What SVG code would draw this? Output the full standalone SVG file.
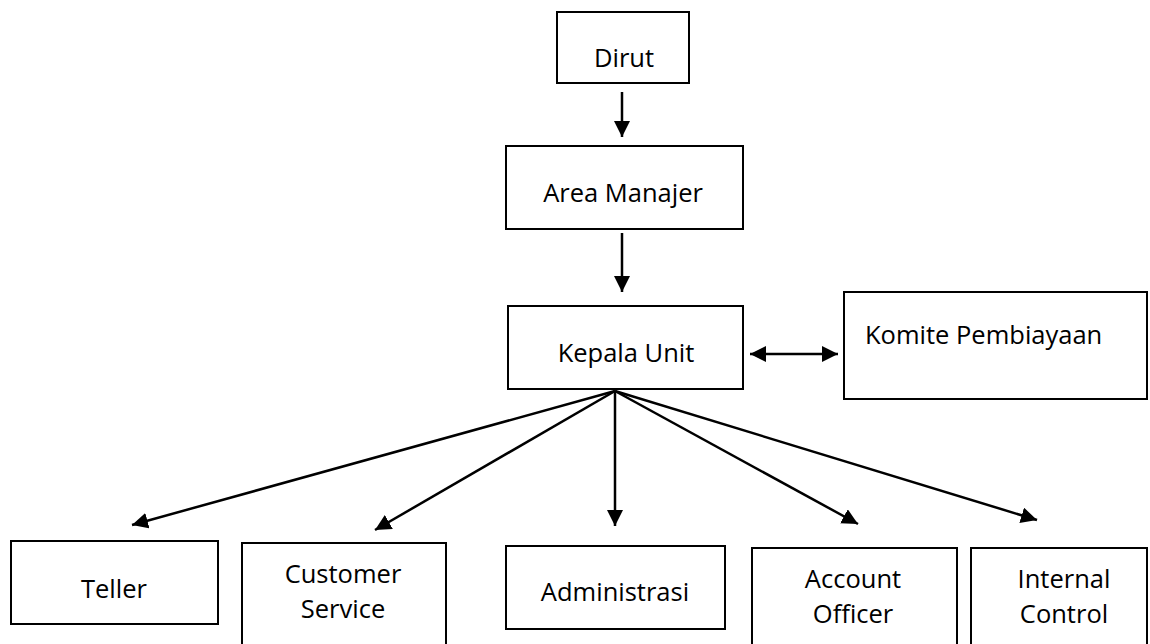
<svg xmlns="http://www.w3.org/2000/svg" width="1150" height="644" viewBox="0 0 1150 644">
<style>
.box{fill:#fff;stroke:#000;stroke-width:2}
.t{font-family:"Open Sans","Noto Sans",sans-serif;font-size:25.5px;fill:#000;text-anchor:middle}
.tl{font-family:"Open Sans","Noto Sans",sans-serif;font-size:25.5px;fill:#000}
.c{stroke:#000;stroke-width:2.5;fill:none}
</style>
<defs>
<marker id="ah" markerUnits="userSpaceOnUse" markerWidth="18" markerHeight="18" viewBox="0 0 18 18" refX="16" refY="8" orient="auto-start-reverse">
<path d="M0,0 L16,8 L0,16 z" fill="#000"/>
</marker>
</defs>
<rect width="1150" height="644" fill="#fff"/>
<g id="dirut"><rect class="box" x="557" y="12" width="132" height="71"/><text class="t" x="624" y="67">Dirut</text></g>
<g id="area-manajer"><rect class="box" x="506" y="146" width="237" height="83"/><text class="t" x="623" y="202">Area Manajer</text></g>
<g id="kepala-unit"><rect class="box" x="508" y="306" width="235" height="83"/><text class="t" x="626" y="362">Kepala Unit</text></g>
<g id="komite"><rect class="box" x="844" y="292" width="303" height="107"/><text class="tl" x="865" y="344">Komite Pembiayaan</text></g>
<g id="teller"><rect class="box" x="11" y="541" width="207" height="83"/><text class="t" x="114" y="598">Teller</text></g>
<g id="customer-service"><rect class="box" x="242" y="543" width="204" height="110"/><text class="t" x="343" y="583">Customer</text><text class="t" x="343" y="618">Service</text></g>
<g id="administrasi"><rect class="box" x="506" y="546" width="219" height="83"/><text class="t" x="615" y="601">Administrasi</text></g>
<g id="account-officer"><rect class="box" x="752" y="548" width="205" height="110"/><text class="t" x="853" y="588">Account</text><text class="t" x="853" y="623">Officer</text></g>
<g id="internal-control"><rect class="box" x="971" y="548" width="176" height="110"/><text class="t" x="1064" y="588">Internal</text><text class="t" x="1064" y="623">Control</text></g>
<g id="connectors">
<line class="c" x1="622" y1="92" x2="622" y2="137" marker-end="url(#ah)"/>
<line class="c" x1="622" y1="233" x2="622" y2="292" marker-end="url(#ah)"/>
<line class="c" x1="750" y1="354" x2="838" y2="354" marker-start="url(#ah)" marker-end="url(#ah)"/>
<line class="c" x1="615" y1="391" x2="132" y2="525" marker-end="url(#ah)"/>
<line class="c" x1="615" y1="391" x2="375" y2="530" marker-end="url(#ah)"/>
<line class="c" x1="615" y1="391" x2="615" y2="526" marker-end="url(#ah)"/>
<line class="c" x1="615" y1="391" x2="858" y2="524" marker-end="url(#ah)"/>
<line class="c" x1="615" y1="391" x2="1037" y2="520" marker-end="url(#ah)"/>
</g>
</svg>
